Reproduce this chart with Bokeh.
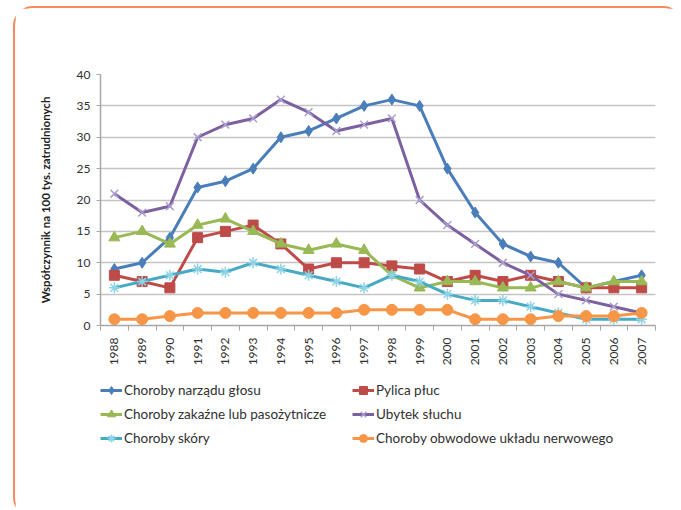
import math
from bokeh.plotting import figure
from bokeh.layouts import column
from bokeh.models import Legend, LegendItem, FixedTicker, Range1d
from bokeh.embed import file_html
from bokeh.resources import INLINE

years = list(range(1988, 2008))
narzad_glosu = [9, 10, 14, 22, 23, 25, 30, 31, 33, 35, 36, 35, 25, 18, 13, 11, 10, 6, 7, 8]
pylica = [8, 7, 6, 14, 15, 16, 13, 9, 10, 10, 9.5, 9, 7, 8, 7, 8, 7, 6, 6, 6]
zakazne = [14, 15, 13, 16, 17, 15, 13, 12, 13, 12, 8, 6, 7, 7, 6, 6, 7, 6, 7, 7]
ubytek_sluchu = [21, 18, 19, 30, 32, 33, 36, 34, 31, 32, 33, 20, 16, 13, 10, 8, 5, 4, 3, 2]
skory = [6, 7, 8, 9, 8.5, 10, 9, 8, 7, 6, 8, 7, 5, 4, 4, 3, 2, 1, 1, 1]
obwodowe = [1, 1, 1.5, 2, 2, 2, 2, 2, 2, 2.5, 2.5, 2.5, 2.5, 1, 1, 1, 1.5, 1.5, 1.5, 2]

names = ["Choroby narządu głosu", "Pylica płuc", "Choroby zakaźne lub pasożytnicze",
         "Ubytek słuchu", "Choroby skóry", "Choroby obwodowe układu nerwowego"]
y_title = "Współczynnik na 100 tys. zatrudnionych"
y_ticks = [0, 5, 10, 15, 20, 25, 30, 35, 40]

FONT = "Lato"
W = 666

p = figure(width=W, height=364, output_backend="svg", toolbar_location=None,
           x_range=Range1d(1987.5, 2007.5), y_range=Range1d(0, 40),
           min_border_left=85, min_border_right=26, min_border_top=66, min_border_bottom=47)
p.outline_line_color = None
p.background_fill_color = "white"
p.border_fill_color = "white"

# axes
p.xaxis.ticker = FixedTicker(ticks=years, minor_ticks=[y - 0.5 for y in years] + [2007.5])
p.xaxis.major_tick_line_color = None
p.xaxis.minor_tick_out = 5
p.xaxis.minor_tick_in = 0
p.xaxis.minor_tick_line_color = "#A6A6A6"
p.xaxis.axis_line_color = "#A6A6A6"
p.xaxis.axis_line_width = 1.5
p.xaxis.major_label_orientation = math.pi / 2
p.xaxis.major_label_text_font = FONT
p.xaxis.major_label_text_font_size = "12px"
p.xaxis.major_label_text_color = "#303030"
p.xaxis.major_label_standoff = 6

p.yaxis.ticker = FixedTicker(ticks=y_ticks)
p.yaxis.minor_tick_line_color = None
p.yaxis.major_tick_out = 4
p.yaxis.major_tick_in = 0
p.yaxis.major_tick_line_color = "#A6A6A6"
p.yaxis.axis_line_color = "#A6A6A6"
p.yaxis.axis_line_width = 1.5
p.yaxis.major_label_text_font = FONT
p.yaxis.major_label_text_font_size = "12px"
p.yaxis.major_label_text_color = "#303030"
p.yaxis.major_label_standoff = 6
p.yaxis.axis_label = y_title
p.yaxis.axis_label_text_font = FONT
p.yaxis.axis_label_text_font_style = "bold"
p.yaxis.axis_label_text_font_size = "11.5px"
p.yaxis.axis_label_text_color = "#202020"
p.yaxis.axis_label_standoff = 22

p.xgrid.grid_line_color = None
p.ygrid.grid_line_color = "#C4C4C4"
p.ygrid.grid_line_width = 1.5

series = [
    (narzad_glosu, "#4A7EBB", "diamond", 11, 1, None),
    (pylica, "#BE4B48", "square", 10, 1, None),
    (zakazne, "#98B954", "triangle", 11, 1, None),
    (ubytek_sluchu, "#7D60A0", "x", 11, 1.5, "#A9A0D0"),
    (skory, "#46AAC5", "asterisk", 11, 1.5, "#8FD3E6"),
    (obwodowe, "#F79646", "circle", 11, 1, None),
]

# legend figure (holds only the legend); its proxy glyphs lie outside its ranges
lg = figure(width=W, height=143, output_backend="svg", toolbar_location=None,
            x_range=Range1d(0, 1), y_range=Range1d(0, 1),
            x_axis_location=None, y_axis_location=None, min_border=0)
lg.outline_line_color = None
lg.xgrid.grid_line_color = None
lg.ygrid.grid_line_color = None

proxy_x = [-10, -9]
proxy_y = [-10, -10]

items = []
for (vals, col, marker, size, lw, mcol), name in zip(series, names):
    p.line(years, vals, line_color=col, line_width=3)
    ll = lg.line(proxy_x, proxy_y, line_color=col, line_width=3)
    if mcol:
        p.scatter(years, vals, marker=marker, size=size, line_color=mcol, line_width=lw)
        ls = lg.scatter(proxy_x[:1], proxy_y[:1], marker=marker, size=size - 2,
                        line_color=mcol, line_width=lw)
    else:
        p.scatter(years, vals, marker=marker, size=size, fill_color=col, line_color=col)
        ls = lg.scatter(proxy_x[:1], proxy_y[:1], marker=marker, size=size - 3,
                        fill_color=col, line_color=col)
    items.append(LegendItem(label=name, renderers=[ll, ls]))

order = [0, 2, 4, 1, 3, 5]
legend = Legend(items=[items[i] for i in order], ncols=2, orientation="vertical",
                location=(0, 143 - 8 - 68), padding=0, margin=0, spacing=4,
                glyph_width=22, glyph_height=20, label_height=20, label_width=224,
                label_standoff=2, border_line_color=None, background_fill_alpha=0,
                label_text_font=FONT, label_text_font_size="13.5px", label_text_color="#303030")
lg.add_layout(legend, "center")

layout = column(p, lg, spacing=0,
                styles={"margin-left": "13px", "margin-top": "6px",
                        "border": "2px solid #F58A5A", "border-radius": "20px",
                        "background-color": "white"})

open("out.html", "w").write(file_html(layout, INLINE))
